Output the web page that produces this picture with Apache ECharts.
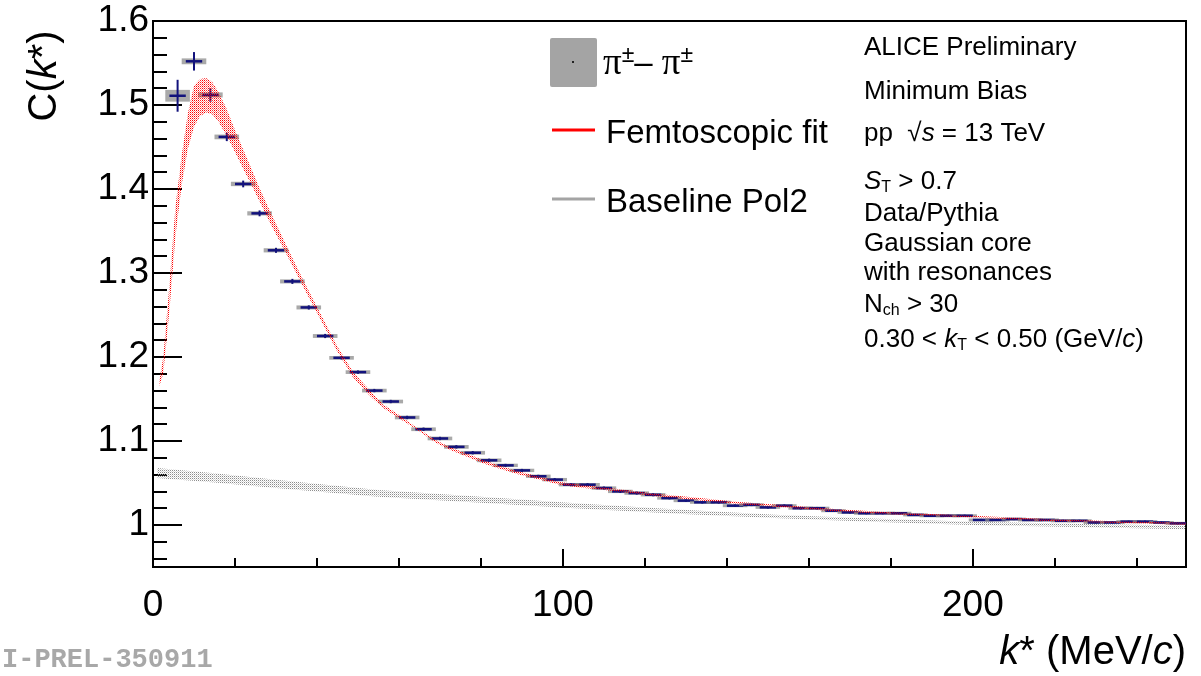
<!DOCTYPE html>
<html><head><meta charset="utf-8">
<script src="https://cdn.jsdelivr.net/npm/echarts@6/dist/echarts.min.js"></script>
<style>html,body{margin:0;padding:0;background:#fff}#c{width:1201px;height:676px}</style>
</head><body><div id="c"></div>
<script>
// ---- data: pi+- pi+- correlation function ----
const kCenters = [6,10,14,18,22,26,30,34,38,42,46,50,54,58,62,66,70,74,78,82,86,90,94,98,102,106,110,114,118,122,126,130,134,138,142,146,150,154,158,162,166,170,174,178,182,186,190,194,198,202,206,210,214,218,222,226,230,234,238,242,246,250];
const corrValues = [1.511,1.552,1.512,1.462,1.406,1.371,1.327,1.290,1.259,1.225,
  1.199,1.182,1.160,1.147,1.128,1.114,1.103,1.093,1.086,1.077,
  1.071,1.065,1.058,1.054,1.048,1.048,1.044,1.040,1.038,1.036,
  1.032,1.029,1.027,1.027,1.023,1.024,1.021,1.023,1.020,1.020,
  1.017,1.015,1.014,1.014,1.014,1.012,1.011,1.011,1.011,1.006,
  1.006,1.007,1.006,1.006,1.005,1.005,1.003,1.003,1.004,1.004,
  1.003,1.002];
const statErrors = [0.019,0.011,0.008,0.005,0.004,0.0035,0.003,0.003,0.0025,0.0025,
  0.002,0.002,0.002,0.002,0.002,0.002,0.002,0.002,0.002,0.002,
  0.0018,0.0018,0.0018,0.0018,0.0018,0.0018,0.0018,0.0018,0.0018,0.0018,
  0.0015,0.0015,0.0015,0.0015,0.0015,0.0015,0.0015,0.0015,0.0015,0.0015,
  0.0013,0.0013,0.0013,0.0013,0.0013,0.0013,0.0013,0.0013,0.0013,0.0013,
  0.0012,0.0012,0.0012,0.0012,0.0012,0.0012,0.0012,0.0012,0.0012,0.0012,
  0.0012,0.0012];
const sysErrors = [0.007,0.0035,0.003,0.0028,0.0026,0.0025,0.0025,0.0024,0.0024,0.0023,
  0.0022,0.0022,0.0022,0.0022,0.0022,0.0022,0.0022,0.0022,0.0022,0.0022,
  0.002,0.002,0.002,0.002,0.002,0.002,0.002,0.002,0.002,0.002,
  0.0018,0.0018,0.0018,0.0018,0.0018,0.0018,0.0018,0.0018,0.0018,0.0018,
  0.0016,0.0016,0.0016,0.0016,0.0016,0.0016,0.0016,0.0016,0.0016,0.0016,
  0.0015,0.0015,0.0015,0.0015,0.0015,0.0015,0.0015,0.0015,0.0015,0.0015,
  0.0015,0.0015];
const binHalfWidth = 2;
const sysBoxHalfWidth = 3;

// ---- femtoscopic fit band ----
const fitK     = [1.5,2.5,4,5.5,7,8.5,10,11.5,13,14.5,16,18,20,22,24,26,28.5,32.7,36.6,40.7,44.9,48.8,52.9,56,60,64,69,72.4,76.5,80.5,84.6,89.5,94.4,99.3,104,109,115,122,131,143,155,167,180,200,218,235,252];
const fitUpper = [1.17,1.20,1.285,1.38,1.44,1.49,1.523,1.531,1.532,1.527,1.515,1.495,1.470,1.447,1.424,1.401,1.374,1.331,1.292,1.253,1.213,1.182,1.160,1.144,1.131,1.117,1.101,
  1.093,1.085,1.0775,1.0705,1.0633,1.0573,1.0513,1.0481,1.0452,1.042,1.0375,1.0332,1.0274,1.0231,1.0188,1.0151,1.0111,1.0071,1.0046,1.0026];
const fitLower = [1.165,1.18,1.255,1.345,1.405,1.448,1.474,1.487,1.491,1.489,1.48,1.463,1.444,1.424,1.405,1.385,1.36,1.321,1.284,1.246,1.207,1.176,1.154,1.140,1.127,1.115,1.098,
  1.0896,1.0816,1.0735,1.0669,1.0597,1.0539,1.0479,1.0447,1.0422,1.039,1.0345,1.0304,1.0246,1.0205,1.0162,1.0127,1.0089,1.0049,1.0024,1.0004];

// ---- baseline pol2 band ----
const baseK     = [1,15,30,55,80,104,128,153,177,200,225,252];
const baseUpper = [1.068,1.0615,1.054,1.0417,1.0335,1.0256,1.0185,1.0119,1.0075,1.004,1.0015,0.999];
const baseLower = [1.056,1.0505,1.044,1.0337,1.0265,1.0196,1.0135,1.0079,1.0035,1.000,0.9975,0.995];

// ---- axis ticks ----
const xTickLabels = [0,100,200];
const yTickLabels = [1,1.1,1.2,1.3,1.4,1.5,1.6];
const xMinorTicks = [];
for (let v = 20; v <= 240; v += 20) if (v % 100) xMinorTicks.push(v);
const yMinorTicks = [];
for (let i = 48; i <= 80; i++) { if (i % 5) yMinorTicks.push(+(i * 0.02).toFixed(2)); }

function dots(color, color2){
  const c = document.createElement('canvas'); c.width = 2; c.height = 2;
  const g = c.getContext('2d');
  g.fillStyle = color; g.fillRect(0,0,1,1);
  g.fillStyle = color2; g.fillRect(1,1,1,1);
  return c;
}
const redPattern = {image: dots('#ff0000', 'rgba(255,0,0,0.45)'), repeat: 'repeat'};
const grayPattern = {image: dots('#8c8c8c', 'rgba(140,140,140,0.35)'), repeat: 'repeat'};

function bandSeries(ks, lo, up, pattern, z){
  return {
    type: 'custom', z: z, silent: true, clip: true,
    data: ks.map((k,i)=>[k, lo[i], up[i]]),
    encode: {x: 0, y: [1,2]},
    renderItem(params, api){
      const i = params.dataIndex;
      if (i >= ks.length - 1) return null;
      const p = [
        api.coord([ks[i], up[i]]), api.coord([ks[i+1], up[i+1]]),
        api.coord([ks[i+1], lo[i+1]]), api.coord([ks[i], lo[i]])
      ];
      return {type: 'polygon', shape: {points: p}, style: {fill: pattern, stroke: null}};
    }
  };
}

const FONT = 'Liberation Sans';
const chart = echarts.init(document.getElementById('c'), null, {renderer: 'canvas'});
const tickStyle = {color: '#000', width: 2};
chart.setOption({
  animation: false,
  grid: {left: 153, right: 15, top: 21, bottom: 109, show: true, borderColor: '#000', borderWidth: 2},
  xAxis: [
    {type: 'value', min: 0, max: 252, position: 'bottom',
     axisLine: {show: true, lineStyle: tickStyle},
     axisTick: {show: true, inside: true, length: 18, customValues: xTickLabels, lineStyle: tickStyle},
     axisLabel: {customValues: xTickLabels, fontSize: 37, color: '#000', fontFamily: FONT, margin: 20},
     splitLine: {show: false}},
    {type: 'value', min: 0, max: 252, position: 'bottom',
     axisLine: {show: false},
     axisTick: {show: true, inside: true, length: 9, customValues: xMinorTicks, lineStyle: tickStyle},
     axisLabel: {show: false}, splitLine: {show: false}}
  ],
  yAxis: [
    {type: 'value', min: 0.95, max: 1.6, position: 'left',
     axisLine: {show: true, lineStyle: tickStyle},
     axisTick: {show: true, inside: true, length: 29, customValues: yTickLabels, lineStyle: tickStyle},
     axisLabel: {customValues: yTickLabels, fontSize: 37, color: '#000', fontFamily: FONT, margin: 4,
                 formatter: v => String(+(+v).toFixed(1))},
     splitLine: {show: false}},
    {type: 'value', min: 0.95, max: 1.6, position: 'left',
     axisLine: {show: false},
     axisTick: {show: true, inside: true, length: 14, customValues: yMinorTicks, lineStyle: tickStyle},
     axisLabel: {show: false}, splitLine: {show: false}}
  ],
  series: [
    bandSeries(baseK, baseLower, baseUpper, grayPattern, 1),
    {
      type: 'custom', z: 2, silent: true, clip: true,
      data: kCenters.map((k,i)=>[k, corrValues[i], statErrors[i], sysErrors[i]]),
      encode: {x: 0, y: 1},
      renderItem(params, api){
        const k = api.value(0), c = api.value(1), se = api.value(2), sy = api.value(3);
        const b0 = api.coord([k - sysBoxHalfWidth, c + sy]), b1 = api.coord([k + sysBoxHalfWidth, c - sy]);
        const h0 = api.coord([k - binHalfWidth, c]), h1 = api.coord([k + binHalfWidth, c]);
        const v0 = api.coord([k, c + se]), v1 = api.coord([k, c - se]);
        const hh = Math.max(b1[1] - b0[1], 3);
        const cy = (b0[1] + b1[1]) / 2;
        return {type: 'group', children: [
          {type: 'rect', shape: {x: b0[0], y: cy - hh/2, width: b1[0] - b0[0], height: hh}, style: {fill: 'rgba(140,140,140,0.75)'}},
          {type: 'line', shape: {x1: h0[0], y1: h0[1], x2: h1[0], y2: h1[1]}, style: {stroke: '#12127c', lineWidth: 2.5}},
          {type: 'line', shape: {x1: v0[0], y1: v0[1], x2: v1[0], y2: v1[1]}, style: {stroke: '#12127c', lineWidth: 2}}
        ]};
      }
    },
    bandSeries(fitK, fitLower, fitUpper, redPattern, 3)
  ],
  graphic: [
    // legend
    {type: 'rect', shape: {x: 550, y: 38, width: 47, height: 49, r: 2}, style: {fill: '#a4a4a4'}},
    {type: 'rect', shape: {x: 572, y: 61, width: 2, height: 2}, style: {fill: '#222'}},
    {type: 'text', x: 603, y: 64, style: {text: '{p|π}{s|±}{n|– }{p|π}{s|±}', verticalAlign: 'middle', fill: '#000',
      rich: {p: {fontFamily: 'Liberation Serif', fontSize: 37, fill: '#000'},
             s: {fontFamily: FONT, fontSize: 23, padding: [0,0,16,0], fill: '#000'},
             n: {fontFamily: FONT, fontSize: 33, fill: '#000'}}}},
    {type: 'line', shape: {x1: 552, y1: 130, x2: 595, y2: 130}, style: {stroke: '#ff0000', lineWidth: 3}},
    {type: 'text', x: 606, y: 134, style: {text: 'Femtoscopic fit', font: '33px ' + FONT, fill: '#000', verticalAlign: 'middle'}},
    {type: 'line', shape: {x1: 552, y1: 199, x2: 595, y2: 199}, style: {stroke: '#a4a4a4', lineWidth: 3}},
    {type: 'text', x: 606, y: 203, style: {text: 'Baseline Pol2', font: '33px ' + FONT, fill: '#000', verticalAlign: 'middle'}},
    // info block
    {type: 'text', x: 864, y: 48, style: {text: 'ALICE Preliminary', font: '26px ' + FONT, fill: '#000', verticalAlign: 'middle'}},
    {type: 'text', x: 864, y: 92, style: {text: 'Minimum Bias', font: '26px ' + FONT, fill: '#000', verticalAlign: 'middle'}},
    {type: 'text', x: 864, y: 134, style: {text: 'pp  √{i|s} = 13 TeV', font: '26px ' + FONT, fill: '#000', verticalAlign: 'middle',
      rich: {i: {fontFamily: FONT, fontSize: 26, fontStyle: 'italic', fill: '#000'}}}},
    {type: 'text', x: 864, y: 182, style: {text: '{i|S}{b|T}{n| > 0.7}', verticalAlign: 'middle', fill: '#000',
      rich: {i: {fontFamily: FONT, fontSize: 26, fontStyle: 'italic', fill: '#000'},
             b: {fontFamily: FONT, fontSize: 16, padding: [12,0,0,0], fill: '#000'},
             n: {fontFamily: FONT, fontSize: 26, fill: '#000'}}}},
    {type: 'text', x: 864, y: 214, style: {text: 'Data/Pythia', font: '26px ' + FONT, fill: '#000', verticalAlign: 'middle'}},
    {type: 'text', x: 864, y: 244, style: {text: 'Gaussian core', font: '26px ' + FONT, fill: '#000', verticalAlign: 'middle'}},
    {type: 'text', x: 864, y: 273, style: {text: 'with resonances', font: '26px ' + FONT, fill: '#000', verticalAlign: 'middle'}},
    {type: 'text', x: 864, y: 305, style: {text: '{n|N}{b|ch}{n| > 30}', verticalAlign: 'middle', fill: '#000',
      rich: {b: {fontFamily: FONT, fontSize: 16, padding: [12,0,0,0], fill: '#000'},
             n: {fontFamily: FONT, fontSize: 26, fill: '#000'}}}},
    {type: 'text', x: 864, y: 340, style: {text: '{n|0.30 < }{i|k}{b|T}{n| < 0.50 (GeV/}{i|c}{n|)}', verticalAlign: 'middle', fill: '#000',
      rich: {i: {fontFamily: FONT, fontSize: 26, fontStyle: 'italic', fill: '#000'},
             b: {fontFamily: FONT, fontSize: 16, padding: [12,0,0,0], fill: '#000'},
             n: {fontFamily: FONT, fontSize: 26, fill: '#000'}}}},
    // axis titles
    {type: 'text', x: 45, y: 76, rotation: Math.PI / 2,
     style: {text: '{n|C(}{i|k}{n|*)}', align: 'center', verticalAlign: 'middle', fill: '#000',
       rich: {n: {fontFamily: FONT, fontSize: 40, fill: '#000'}, i: {fontFamily: FONT, fontSize: 40, fontStyle: 'italic', fill: '#000'}}}},
    {type: 'text', x: 1186, y: 653,
     style: {text: '{i|k}{n|* (MeV/}{i|c}{n|)}', align: 'right', verticalAlign: 'middle', fill: '#000',
       rich: {n: {fontFamily: FONT, fontSize: 40, fill: '#000'}, i: {fontFamily: FONT, fontSize: 40, fontStyle: 'italic', fill: '#000'}}}},
    // watermark
    {type: 'text', x: 2, y: 660, style: {text: 'I-PREL-350911', font: 'bold 27px "Liberation Mono"', fill: '#a8a8a8', verticalAlign: 'middle'}}
  ]
});
</script></body></html>
